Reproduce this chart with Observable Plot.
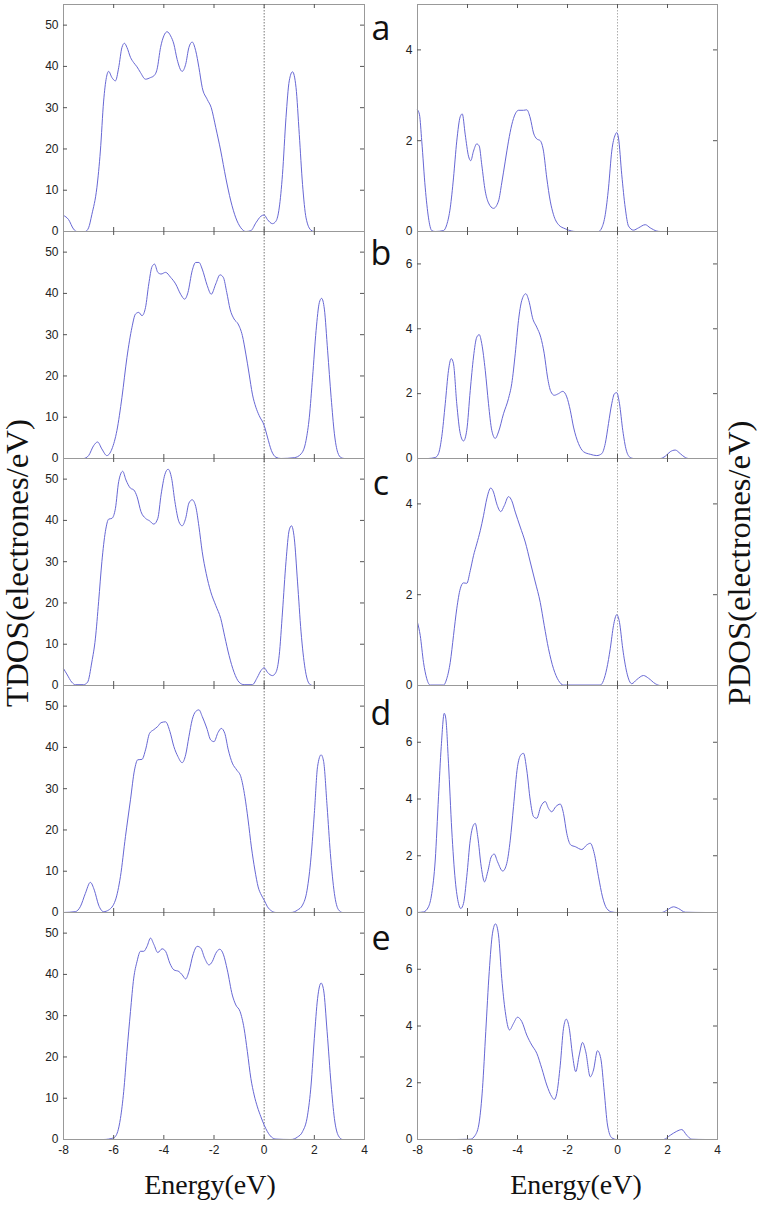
<!DOCTYPE html>
<html><head><meta charset="utf-8">
<script src="https://cdn.jsdelivr.net/npm/d3@7"></script>
<script src="https://cdn.jsdelivr.net/npm/@observablehq/plot@0.6"></script>
<style>
body{margin:0;background:#fff;}
#root{position:relative;width:761px;height:1206px;overflow:hidden;background:#fff;}
.panel{position:absolute;}
#overlay{position:absolute;left:0;top:0;pointer-events:none;}
</style></head><body><div id="root"></div>
<script>
// ---------- data ----------
const energyTicks = [-8, -6, -4, -2, 0, 2, 4];
const tdosTicks = [0, 10, 20, 30, 40, 50];
const panelLetters = ["a", "b", "c", "d", "e"];
const tdosMax = 55;
const pdosMax = [5, 7, 5, 8, 8];
const pdosTicks = [[0, 2, 4], [0, 2, 4, 6], [0, 2, 4], [0, 2, 4, 6], [0, 2, 4, 6]];

const tdosA = [[-8,3.9],[-7.8,2.9],[-7.6,0.6],[-7.47,0],[-7.13,0],[-7,0.9],[-6.87,4.1],[-6.67,10.6],[-6.53,19.5],[-6.4,31.6],[-6.29,37.3],[-6.2,38.8],[-6.07,37.3],[-5.93,36.5],[-5.8,39.7],[-5.67,44.6],[-5.57,45.6],[-5.47,44.6],[-5.33,42.2],[-5.2,40.9],[-5.07,39.9],[-4.93,38.5],[-4.73,36.9],[-4.53,37.3],[-4.4,37.7],[-4.27,39.3],[-4.13,44.6],[-4,47.4],[-3.87,48.4],[-3.73,47.4],[-3.6,45.4],[-3.47,41.7],[-3.27,38.8],[-3.13,40.5],[-3,44.6],[-2.87,45.9],[-2.73,43.8],[-2.6,39.7],[-2.47,34.9],[-2.27,32],[-2.11,30],[-1.93,25.2],[-1.73,19.5],[-1.53,13],[-1.33,7.4],[-1.13,3.3],[-0.93,0.9],[-0.73,0],[-0.53,0.2],[-0.33,2.1],[-0.13,3.7],[0,4.0],[0.13,2.9],[0.33,1.9],[0.47,2.5],[0.6,5.7],[0.73,13.8],[0.87,27.6],[1,36.5],[1.13,38.7],[1.27,34.9],[1.4,23.5],[1.53,11.4],[1.67,3.3],[1.87,0.3],[2,0],[2.4,0]];
const tdosB = [[-8,0],[-7.2,0],[-7,0.7],[-6.8,3.1],[-6.64,4.0],[-6.47,2.3],[-6.27,0.7],[-6.07,2.3],[-5.87,6.8],[-5.67,14.8],[-5.47,24.5],[-5.27,31.8],[-5.13,35],[-5,35.4],[-4.87,34.6],[-4.73,36.6],[-4.6,42.3],[-4.47,46.5],[-4.37,47.1],[-4.24,45.1],[-4.11,44.7],[-3.93,45.1],[-3.73,43.9],[-3.53,42.3],[-3.33,39.8],[-3.17,38.6],[-3.04,40.2],[-2.87,45.5],[-2.73,47.5],[-2.6,47.5],[-2.47,45.9],[-2.27,41.9],[-2.11,39.8],[-1.93,42.3],[-1.76,44.5],[-1.63,43.9],[-1.49,40.2],[-1.36,36.2],[-1.2,33.8],[-1.04,32.6],[-0.87,29.8],[-0.73,25.3],[-0.6,20.5],[-0.47,15.6],[-0.33,12.4],[-0.2,10.4],[0,8.0],[0.13,5.2],[0.29,1.9],[0.47,0.3],[0.67,0],[1.2,0.2],[1.47,1.1],[1.67,4.4],[1.8,10],[1.93,19.7],[2.07,31],[2.2,37.8],[2.29,38.8],[2.4,36.2],[2.53,26.1],[2.67,14.8],[2.8,6],[2.93,1.5],[3.07,0.2],[3.2,0],[3.47,0]];
const tdosC = [[-8,4.1],[-7.87,2.8],[-7.67,0.8],[-7.53,0.2],[-7.2,0.2],[-7.04,0.8],[-6.87,5.7],[-6.73,11.3],[-6.6,20.3],[-6.47,30],[-6.33,37.3],[-6.2,40.3],[-6.07,40.5],[-5.93,42.9],[-5.8,49.4],[-5.64,51.9],[-5.51,49.8],[-5.33,47.8],[-5.2,47.4],[-5.07,45.8],[-4.91,42.1],[-4.73,40.5],[-4.57,39.9],[-4.4,39.1],[-4.24,40.5],[-4.11,46.2],[-3.96,51.1],[-3.83,52.4],[-3.69,50.2],[-3.56,44.6],[-3.4,39.7],[-3.27,38.7],[-3.13,40.5],[-3,44.2],[-2.87,45],[-2.73,43.4],[-2.6,38.5],[-2.47,32.4],[-2.31,27.1],[-2.13,22.7],[-1.93,19.4],[-1.73,16.2],[-1.57,11.8],[-1.4,7.3],[-1.2,3.2],[-1,0.8],[-0.8,0.2],[-0.47,0.2],[-0.27,2],[-0.13,3.6],[0,4.3],[0.13,3.2],[0.33,2.4],[0.47,3.2],[0.6,7.3],[0.73,17.8],[0.87,30],[1,37.7],[1.09,38.7],[1.2,35.7],[1.33,25.1],[1.47,13],[1.63,4.1],[1.8,0.4],[1.93,0],[2.33,0]];
const tdosD = [[-8,0],[-7.53,0.2],[-7.33,1.4],[-7.13,4.6],[-6.93,7.3],[-6.77,5.4],[-6.6,1.8],[-6.4,0.2],[-6.2,0.6],[-5.93,3],[-5.73,8.7],[-5.53,18.4],[-5.33,27.3],[-5.17,34.5],[-5.04,37],[-4.87,37.1],[-4.73,39.4],[-4.57,43.4],[-4.4,44.3],[-4.24,45.1],[-4.11,46],[-3.93,46.2],[-3.76,43.9],[-3.6,40.2],[-3.44,37.8],[-3.27,36.3],[-3.13,38.2],[-3,42.6],[-2.87,46.7],[-2.73,48.7],[-2.6,49.1],[-2.47,47.5],[-2.29,44.7],[-2.13,41.8],[-2,41.4],[-1.84,43.6],[-1.71,44.6],[-1.57,43.4],[-1.43,39.4],[-1.27,36.2],[-1.09,34.5],[-0.93,32.9],[-0.77,28.1],[-0.64,22.4],[-0.51,15.9],[-0.37,10.3],[-0.24,6.2],[-0.11,4.2],[0,3],[0.13,1.4],[0.29,0.4],[0.47,0],[1.07,0],[1.33,0.6],[1.53,1.8],[1.71,5.4],[1.87,13.5],[2,24],[2.13,35.4],[2.27,38.2],[2.37,36.6],[2.51,25.6],[2.64,14.3],[2.8,4.6],[2.96,0.7],[3.13,0],[3.53,0]];
const tdosE = [[-8,0],[-6.4,0],[-6,0.4],[-5.84,1.9],[-5.73,5.1],[-5.6,11.6],[-5.47,21.3],[-5.33,31],[-5.2,39.1],[-5.07,43.1],[-4.93,45.6],[-4.8,45.6],[-4.67,46.8],[-4.53,48.8],[-4.4,47.3],[-4.24,45.3],[-4.07,46.2],[-3.93,45.6],[-3.76,42.7],[-3.6,41.1],[-3.4,40.7],[-3.27,39.9],[-3.13,38.9],[-3,40.7],[-2.84,44.7],[-2.67,46.8],[-2.53,46.4],[-2.37,43.9],[-2.2,42.3],[-2.07,43.1],[-1.93,45.1],[-1.77,46.1],[-1.63,44.9],[-1.47,41.1],[-1.27,35],[-1.13,32.6],[-0.96,31],[-0.8,26.9],[-0.67,21.3],[-0.53,14.8],[-0.4,10.8],[-0.27,7.9],[-0.13,5.5],[0,3.5],[0.13,1.9],[0.29,0.6],[0.47,0.1],[1.07,0],[1.33,0.6],[1.53,1.9],[1.73,5.9],[1.87,13.2],[2,24.5],[2.13,34.2],[2.27,37.9],[2.37,36.2],[2.51,26.1],[2.67,13.2],[2.8,5.1],[2.96,0.9],[3.13,0],[3.53,0]];

const pdosA = [[-8,2.68],[-7.92,2.57],[-7.83,1.99],[-7.69,0.96],[-7.56,0.3],[-7.43,0.02],[-7.29,0],[-6.96,0.02],[-6.83,0.15],[-6.69,0.52],[-6.56,1.18],[-6.43,1.99],[-6.29,2.53],[-6.21,2.59],[-6.09,2.13],[-5.96,1.66],[-5.87,1.56],[-5.76,1.77],[-5.63,1.93],[-5.53,1.88],[-5.43,1.47],[-5.29,0.89],[-5.16,0.63],[-4.96,0.51],[-4.76,0.67],[-4.63,1.07],[-4.49,1.55],[-4.36,1.99],[-4.23,2.35],[-4.09,2.59],[-3.96,2.67],[-3.76,2.67],[-3.63,2.68],[-3.49,2.5],[-3.36,2.17],[-3.23,2.04],[-3.09,2.0],[-2.96,1.77],[-2.83,1.18],[-2.69,0.67],[-2.56,0.37],[-2.36,0.15],[-2.09,0.06],[-1.83,0.01],[-1.69,0],[-0.76,0],[-0.63,0.08],[-0.49,0.37],[-0.36,0.96],[-0.23,1.77],[-0.09,2.13],[-0.03,2.18],[0.04,2.06],[0.17,1.25],[0.31,0.52],[0.44,0.12],[0.64,0.03],[0.84,0.08],[1.11,0.15],[1.31,0.08],[1.57,0.01],[1.71,0],[3.44,0]];
const pdosB = [[-7.56,0],[-7.29,0.03],[-7.16,0.15],[-7.03,0.67],[-6.89,1.69],[-6.76,2.72],[-6.65,3.08],[-6.56,2.92],[-6.43,1.69],[-6.29,0.77],[-6.16,0.54],[-6.03,0.87],[-5.89,2.1],[-5.76,3.13],[-5.63,3.74],[-5.53,3.82],[-5.43,3.54],[-5.29,2.72],[-5.16,1.69],[-5.03,0.87],[-4.89,0.62],[-4.76,0.82],[-4.56,1.38],[-4.36,1.85],[-4.23,2.31],[-4.09,3.23],[-3.96,4.26],[-3.83,4.87],[-3.67,5.08],[-3.53,4.82],[-3.4,4.34],[-3.23,4.05],[-3.07,3.74],[-2.93,3.23],[-2.8,2.51],[-2.67,2.07],[-2.53,1.95],[-2.36,2.0],[-2.19,2.07],[-2.03,1.9],[-1.89,1.49],[-1.76,0.97],[-1.56,0.46],[-1.36,0.21],[-1.09,0.13],[-0.83,0.09],[-0.63,0.15],[-0.49,0.46],[-0.36,1.08],[-0.23,1.69],[-0.12,2.0],[-0.03,2.03],[0.08,1.69],[0.21,0.87],[0.35,0.26],[0.51,0.03],[0.64,0],[1.71,0],[1.91,0.07],[2.11,0.21],[2.31,0.26],[2.51,0.15],[2.71,0.03],[2.84,0],[3.44,0]];
const pdosC = [[-8,1.39],[-7.89,1.1],[-7.76,0.51],[-7.63,0.15],[-7.49,0.01],[-6.96,0.01],[-6.83,0.15],[-6.69,0.51],[-6.56,1.1],[-6.43,1.69],[-6.29,2.13],[-6.16,2.26],[-6.03,2.25],[-5.89,2.53],[-5.76,2.86],[-5.63,3.12],[-5.49,3.41],[-5.36,3.74],[-5.23,4.11],[-5.07,4.35],[-4.96,4.26],[-4.83,4.0],[-4.67,3.83],[-4.53,3.96],[-4.36,4.16],[-4.23,4.07],[-4.09,3.82],[-3.89,3.49],[-3.69,3.16],[-3.49,2.72],[-3.29,2.28],[-3.09,1.83],[-2.93,1.32],[-2.76,0.81],[-2.56,0.37],[-2.36,0.11],[-2.16,0.01],[-0.69,0.01],[-0.56,0.11],[-0.43,0.37],[-0.29,0.81],[-0.16,1.32],[-0.03,1.56],[0.08,1.39],[0.21,0.81],[0.37,0.29],[0.57,0.04],[0.77,0.13],[1.04,0.22],[1.24,0.16],[1.51,0.04],[1.71,0],[2.31,0]];
const pdosD = [[-8,0],[-7.76,0.02],[-7.56,0.2],[-7.43,0.67],[-7.29,1.85],[-7.16,4.08],[-7.05,5.85],[-6.93,7.02],[-6.87,6.85],[-6.76,5.26],[-6.63,2.91],[-6.49,1.14],[-6.36,0.32],[-6.27,0.14],[-6.16,0.32],[-6.03,1.26],[-5.89,2.55],[-5.79,3.02],[-5.69,3.14],[-5.59,2.67],[-5.45,1.61],[-5.32,1.08],[-5.19,1.44],[-5.05,1.96],[-4.93,2.06],[-4.8,1.79],[-4.59,1.46],[-4.43,1.73],[-4.29,2.55],[-4.16,3.73],[-4,5.14],[-3.87,5.55],[-3.76,5.61],[-3.63,5.02],[-3.49,3.96],[-3.36,3.38],[-3.23,3.32],[-3.07,3.73],[-2.89,3.91],[-2.76,3.67],[-2.63,3.55],[-2.47,3.73],[-2.29,3.82],[-2.16,3.49],[-2.03,2.79],[-1.87,2.38],[-1.69,2.32],[-1.43,2.22],[-1.23,2.38],[-1.09,2.44],[-0.93,2.08],[-0.76,1.26],[-0.6,0.55],[-0.43,0.14],[-0.23,0.02],[-0.03,0],[1.77,0],[1.97,0.08],[2.24,0.2],[2.44,0.14],[2.71,0.01],[3.51,0]];
const pdosE = [[-8,0],[-6.43,0],[-5.89,0.01],[-5.69,0.15],[-5.53,0.62],[-5.4,1.8],[-5.27,3.8],[-5.13,5.92],[-5,7.27],[-4.88,7.6],[-4.76,7.21],[-4.63,5.68],[-4.49,4.51],[-4.32,3.86],[-4.16,4.09],[-4,4.31],[-3.83,4.16],[-3.63,3.68],[-3.43,3.33],[-3.23,3.04],[-3.03,2.51],[-2.83,1.92],[-2.63,1.51],[-2.53,1.41],[-2.43,1.62],[-2.29,2.62],[-2.16,3.92],[-2.05,4.24],[-1.93,3.92],[-1.8,2.98],[-1.67,2.39],[-1.53,2.98],[-1.4,3.42],[-1.27,3.09],[-1.09,2.21],[-0.96,2.45],[-0.8,3.13],[-0.67,2.86],[-0.53,1.68],[-0.4,0.51],[-0.23,0.06],[-0.03,0],[1.84,0],[2.11,0.15],[2.37,0.29],[2.57,0.35],[2.77,0.15],[2.97,0.01],[3.51,0]];

const tdosSeries = [tdosA, tdosB, tdosC, tdosD, tdosE];
const pdosSeries = [pdosA, pdosB, pdosC, pdosD, pdosE];

// ---------- layout ----------
const root = document.getElementById("root");
const panelTops = [4, 231, 458, 685, 912];
const frameH = 227;
const cols = [{left: 63, w: 301}, {left: 417, w: 300}];
const mL = 40, mR = 10, mT = 10;
const lineColor = "#6767d4";

function panel(data, yMax, yTicks, colIdx, rowIdx) {
  const col = cols[colIdx];
  const bottomRow = rowIdx === 4;
  const mB = bottomRow ? 30 : 10;
  const fw = col.w;
  const p = Plot.plot({
    width: fw + mL + mR,
    height: frameH + mT + mB,
    marginLeft: mL, marginRight: mR, marginTop: mT, marginBottom: mB,
    style: {background: "transparent", overflow: "visible", fontFamily: "Arial, 'Liberation Sans', sans-serif", fontSize: "12px", color: "#222"},
    x: {domain: [-8, 4], axis: null},
    y: {domain: [0, yMax], axis: null},
    marks: [
      Plot.ruleX([0], {stroke: colIdx === 0 ? "#555" : "#999", strokeWidth: 0.8, strokeDasharray: "1.5,1.5"}),
      Plot.line(data, {x: d => d[0], y: d => d[1], stroke: lineColor, strokeWidth: 1, curve: "monotone-x"}),
      Plot.ruleY([0], {stroke: "#444", strokeWidth: 1}),
      Plot.frame({stroke: "#999"}),
      Plot.tickX(energyTicks.filter(t => t > -8 && t < 4), {x: d => d, insetTop: frameH - 4, stroke: "#555"}),
      Plot.tickX(energyTicks.filter(t => t > -8 && t < 4), {x: d => d, insetBottom: frameH - 4, stroke: "#555"}),
      Plot.tickY(yTicks.filter(t => t > 0), {y: d => d, insetRight: fw - 4, stroke: "#555"}),
      Plot.tickY(yTicks.filter(t => t > 0), {y: d => d, insetLeft: fw - 4, stroke: "#555"}),
      Plot.axisY({ticks: yTicks, tickFormat: d => String(d), tickSize: 0, tickPadding: 5, label: null, fill: "#222"}),
      bottomRow ? Plot.axisX({ticks: energyTicks, tickFormat: d => String(d), tickSize: 0, tickPadding: 6, label: null, fill: "#222"}) : null
    ]
  });
  p.classList.add("panel");
  p.style.left = (col.left - mL) + "px";
  p.style.top = (panelTops[rowIdx] - mT) + "px";
  root.appendChild(p);
}

for (let i = 0; i < 5; i++) {
  panel(tdosSeries[i], tdosMax, tdosTicks, 0, i);
  panel(pdosSeries[i], pdosMax[i], pdosTicks[i], 1, i);
}

// ---------- text overlay ----------
const ns = "http://www.w3.org/2000/svg";
const ov = document.createElementNS(ns, "svg");
ov.setAttribute("id", "overlay");
ov.setAttribute("width", 761);
ov.setAttribute("height", 1206);
root.appendChild(ov);
function txt(s, x, y, opts) {
  const t = document.createElementNS(ns, "text");
  t.textContent = s;
  t.setAttribute("x", x); t.setAttribute("y", y);
  for (const k in opts) t.setAttribute(k, opts[k]);
  ov.appendChild(t);
  return t;
}
const letterBaselines = [40, 265, 495, 725, 950];
panelLetters.forEach((l, i) => txt(l, 381, letterBaselines[i], {"font-family": "'Open Sans', sans-serif", "font-size": 34, "text-anchor": "middle", fill: "#111"}));
const serif = "'Liberation Serif', 'DejaVu Serif', serif";
txt("TDOS(electrones/eV)", 0, 0, {"font-family": serif, "font-size": 31, "text-anchor": "middle", fill: "#111", transform: "translate(28,563) rotate(-90)", textLength: 288, lengthAdjust: "spacingAndGlyphs"});
txt("PDOS(electrones/eV)", 0, 0, {"font-family": serif, "font-size": 31, "text-anchor": "middle", fill: "#111", transform: "translate(750,563) rotate(-90)", textLength: 285, lengthAdjust: "spacingAndGlyphs"});
txt("Energy(eV)", 210, 1194, {"font-family": serif, "font-size": 28, "text-anchor": "middle", fill: "#111"});
txt("Energy(eV)", 576, 1194, {"font-family": serif, "font-size": 28, "text-anchor": "middle", fill: "#111"});
</script>
</body></html>
